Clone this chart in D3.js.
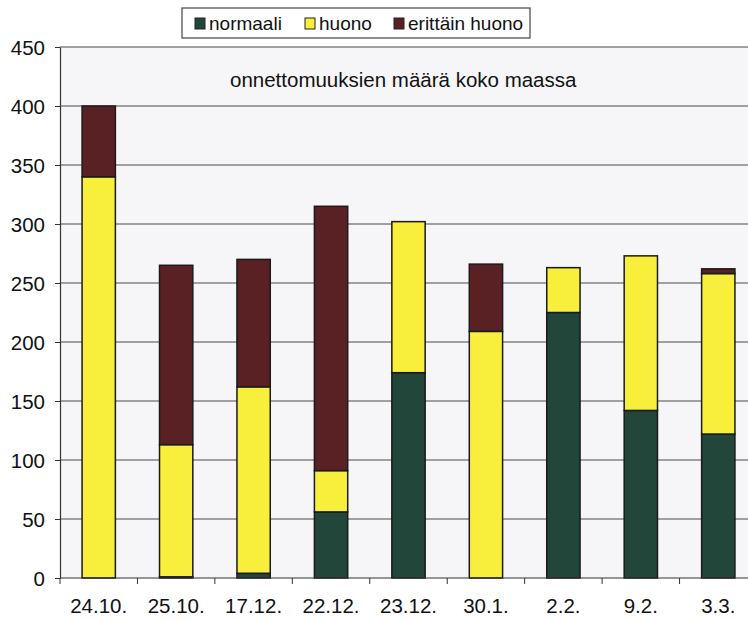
<!DOCTYPE html>
<html>
<head>
<meta charset="utf-8">
<script src="https://cdn.jsdelivr.net/npm/d3@7"></script>
<style>
  body { margin: 0; background: #fff; }
  text { font-family: Arial, "Liberation Sans", sans-serif; fill: #111; }
</style>
</head>
<body>
<div id="chart"></div>
<script>
/* --- データ --- */
const dates = ["24.10.", "25.10.", "17.12.", "22.12.", "23.12.", "30.1.", "2.2.", "9.2.", "3.3."];
const normaali = [0, 1, 4, 56, 174, 0, 225, 142, 122];
const huono = [340, 112, 158, 35, 128, 209, 38, 131, 136];
const erittainHuono = [60, 152, 108, 224, 0, 57, 0, 0, 4];
const seriesNames = ["normaali", "huono", "erittäin huono"];
const yTicks = [0, 50, 100, 150, 200, 250, 300, 350, 400, 450];
const title = "onnettomuuksien määrä koko maassa";

const colors = ["#22473a", "#f7ef3c", "#5a2125"];

/* --- ビューポート --- */
const width = 748, height = 620;
const margin = {top: 47, right: -9, bottom: 42, left: 60};

const svg = d3.select("#chart").append("svg")
    .attr("width", width)
    .attr("height", height);

const rows = dates.map((d, i) => ({
    date: d,
    "normaali": normaali[i],
    "huono": huono[i],
    "erittäin huono": erittainHuono[i]
}));

const stacked = d3.stack().keys(seriesNames)(rows);

/*--- スケール ---*/
const xScale = d3.scaleBand()
    .domain(dates)
    .range([margin.left, width - margin.right])
    .paddingInner(0.57)
    .paddingOuter(0.285);

const yScale = d3.scaleLinear()
    .domain([0, 450])
    .range([height - margin.bottom, margin.top]);

/*--- プロットエリア ---*/
svg.append("rect")
    .attr("x", margin.left)
    .attr("y", margin.top)
    .attr("width", width - margin.right - margin.left)
    .attr("height", yScale(0) - margin.top)
    .attr("fill", "#f6f6f8");

/*--- グリッド ---*/
svg.append("g").selectAll("line")
    .data(yTicks.filter(t => t > 0))
    .enter().append("line")
    .attr("x1", margin.left)
    .attr("x2", width)
    .attr("y1", d => yScale(d))
    .attr("y2", d => yScale(d))
    .attr("stroke", "#4a4a4a")
    .attr("stroke-width", 1.2);

/*--- 棒 ---*/
svg.append("g").selectAll("g")
    .data(stacked)
    .enter().append("g")
    .attr("fill", (d, i) => colors[i])
    .selectAll("rect")
    .data(d => d.filter(p => p[1] - p[0] > 0))
    .enter().append("rect")
    .attr("x", d => xScale(d.data.date))
    .attr("width", xScale.bandwidth())
    .attr("y", d => yScale(d[1]))
    .attr("height", d => yScale(d[0]) - yScale(d[1]))
    .attr("stroke", "#1a1a1a")
    .attr("stroke-width", 1.5);

/*--- 軸 ---*/
const yAxis = d3.axisLeft(yScale).tickValues(yTicks).tickSize(5).tickSizeOuter(0);
const yAxisG = svg.append("g")
    .attr("transform", "translate(" + margin.left + ",0)")
    .call(yAxis);
yAxisG.select(".domain").attr("stroke", "#333").attr("stroke-width", 1.2);
yAxisG.selectAll(".tick line").attr("stroke", "#333");
yAxisG.selectAll("text")
    .attr("x", -15)
    .attr("dy", "0.36em")
    .style("font-size", "20.5px")
    .style("font-family", "Arial, 'Liberation Sans', sans-serif")
    .attr("fill", "#111");

const xAxisG = svg.append("g")
    .attr("transform", "translate(0," + yScale(0) + ")");
xAxisG.append("line")
    .attr("x1", margin.left).attr("x2", width)
    .attr("stroke", "#333").attr("stroke-width", 1.2);
const step = xScale.step();
xAxisG.selectAll(".xtick")
    .data(dates)
    .enter().append("line")
    .attr("class", "xtick")
    .attr("x1", (d, i) => margin.left + i * step)
    .attr("x2", (d, i) => margin.left + i * step)
    .attr("y1", 0).attr("y2", 6)
    .attr("stroke", "#333");
xAxisG.selectAll(".xlabel")
    .data(dates)
    .enter().append("text")
    .attr("class", "xlabel")
    .attr("x", d => xScale(d) + xScale.bandwidth() / 2)
    .attr("y", 35)
    .attr("text-anchor", "middle")
    .style("font-size", "20.5px")
    .text(d => d);

/*--- タイトル ---*/
svg.append("text")
    .attr("x", 230)
    .attr("y", 87)
    .style("font-size", "20.5px")
    .text(title);

/*--- 凡例 ---*/
const legend = svg.append("g").attr("transform", "translate(182,8)");
legend.append("rect")
    .attr("width", 348).attr("height", 30)
    .attr("fill", "#fff")
    .attr("stroke", "#444")
    .attr("stroke-width", 1.2);
const legendX = [13, 123, 212];
const items = legend.selectAll(".item")
    .data(seriesNames)
    .enter().append("g")
    .attr("class", "item")
    .attr("transform", (d, i) => "translate(" + legendX[i] + ",0)");
items.append("rect")
    .attr("x", 0).attr("y", 10)
    .attr("width", 10).attr("height", 11)
    .attr("fill", (d, i) => colors[i])
    .attr("stroke", "#222");
items.append("text")
    .attr("x", 14).attr("y", 22)
    .style("font-size", "19px")
    .text(d => d);
</script>
</body>
</html>
